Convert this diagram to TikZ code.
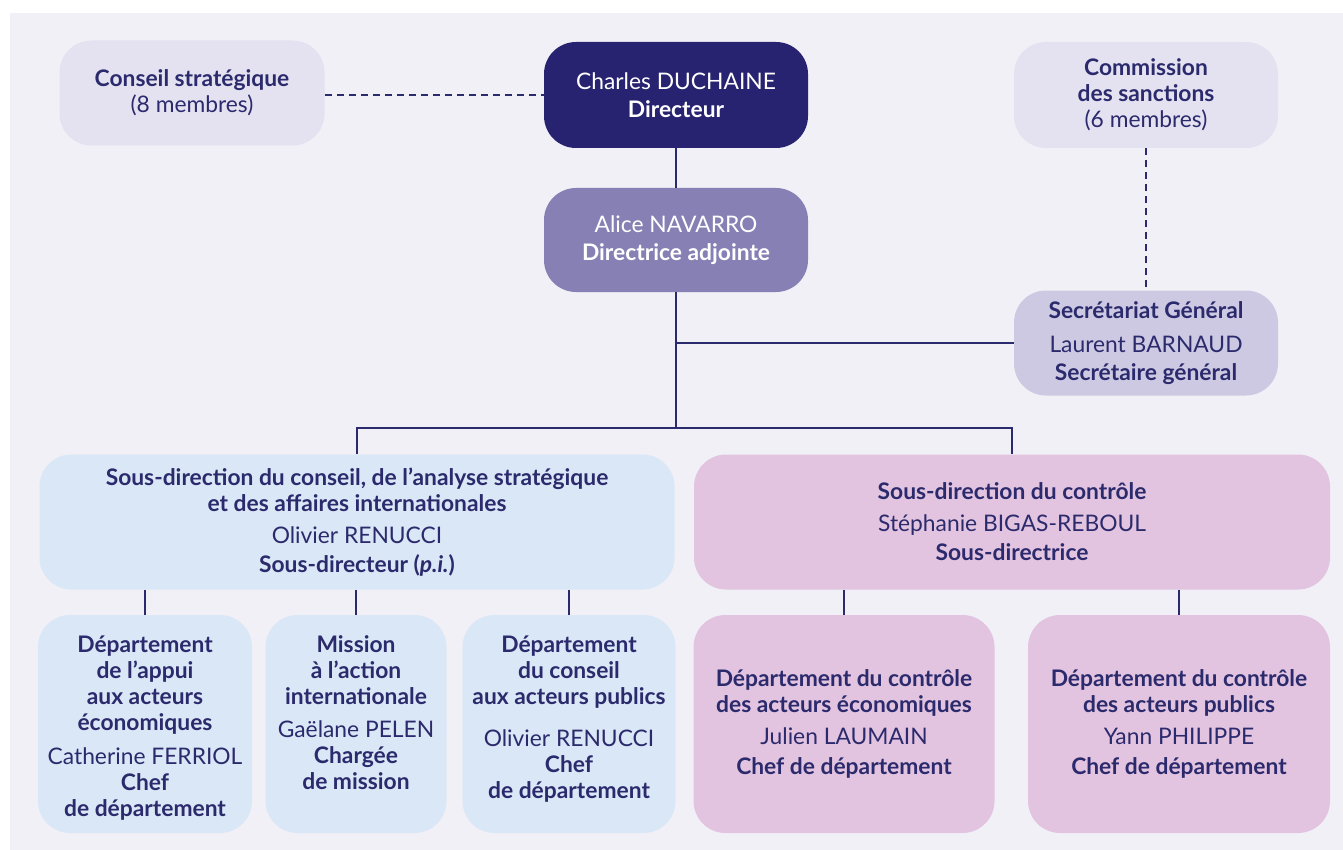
\documentclass[tikz,border=0pt]{standalone}
\usepackage{fontspec}
\setmainfont{Lato}
\usetikzlibrary{positioning}

\definecolor{navy}{HTML}{2B2A6C}
\definecolor{panel}{HTML}{F1F0F7}
\definecolor{lilac}{HTML}{E4E2F1}
\definecolor{dirblue}{HTML}{272370}
\definecolor{adjmauve}{HTML}{8780B5}
\definecolor{sgmauve}{HTML}{CDC9E3}
\definecolor{skyblue}{HTML}{DAE7F6}
\definecolor{pinkmauve}{HTML}{E2C4E0}

\tikzset{
  box/.style={rounded corners=32pt, align=center, text=navy, inner sep=0pt,
    font=\fontsize{22.8}{26}\selectfont},
  txt/.style={align=center, text=navy, inner sep=0pt,
    font=\fontsize{22.8}{26}\selectfont},
  link/.style={navy, line width=1.5pt},
  dlink/.style={link, dash pattern=on 7pt off 5pt},
}

\begin{document}
\begin{tikzpicture}[x=1pt,y=-1pt]
  \useasboundingbox (0,0) rectangle (1343,850);
  \fill[panel] (10,13) rectangle (1343,850);

  % top row
  \node[box, fill=lilac, minimum width=265pt, minimum height=105pt] (cs) at (192,93)
    {\textbf{Conseil stratégique}\\(8 membres)};
  \node[box, fill=dirblue, text=white, minimum width=264pt, minimum height=106pt] (dir) at (676,95)
    {Charles DUCHAINE\\[2pt]\textbf{Directeur}};
  \node[box, fill=lilac, minimum width=264pt, minimum height=106pt] (cds) at (1146,95)
    {\textbf{Commission}\\\textbf{des sanctions}\\(6 membres)};
  \node[box, fill=adjmauve, text=white, minimum width=264pt, minimum height=104pt] (adj) at (676,240)
    {Alice NAVARRO\\[2pt]\textbf{Directrice adjointe}};
  \node[box, fill=sgmauve, minimum width=264pt, minimum height=105pt] (sg) at (1146,343)
    {\textbf{Secrétariat Général}\\[8pt]Laurent BARNAUD\\[2pt]\textbf{Secrétaire général}};

  % sous-directions
  \node[box, fill=skyblue, minimum width=635pt, minimum height=135pt] (sdc) at (357,522)
    {\textbf{Sous-direction du conseil, de l’analyse stratégique}\\
     \textbf{et des affaires internationales}\\[6pt]
     Olivier RENUCCI\\[3pt]\textbf{Sous-directeur (\textit{p.i.})}};
  \node[box, fill=pinkmauve, minimum width=636pt, minimum height=135pt] (sdctrl) at (1012,522)
    {\textbf{Sous-direction du contrôle}\\[6pt]
     Stéphanie BIGAS-REBOUL\\[3pt]\textbf{Sous-directrice}};

  % departements
  \node[box, fill=skyblue, minimum width=214pt, minimum height=218pt] (dae) at (145,724) {};
  \node[box, fill=skyblue, minimum width=181pt, minimum height=218pt] (mai) at (356,724) {};
  \node[box, fill=skyblue, minimum width=213pt, minimum height=218pt] (dcap) at (569,724) {};
  \node[txt, anchor=north] (dae-t) at ([yshift=-21pt]dae.north)
    {\textbf{Département}\\\textbf{de l’appui}\\\textbf{aux acteurs}\\\textbf{économiques}\\[8pt]
     Catherine FERRIOL\\\textbf{Chef}\\\textbf{de département}};
  \node[txt, anchor=north] (mai-t) at ([yshift=-21pt]mai.north)
    {\textbf{Mission}\\\textbf{à l’action}\\\textbf{internationale}\\[7pt]
     Gaëlane PELEN\\\textbf{Chargée}\\\textbf{de mission}};
  \node[txt, anchor=north] (dcap-t) at ([yshift=-21pt]dcap.north)
    {\textbf{Département}\\\textbf{du conseil}\\\textbf{aux acteurs publics}\\[16pt]
     Olivier RENUCCI\\\textbf{Chef}\\\textbf{de département}};
  \node[box, fill=pinkmauve, minimum width=301pt, minimum height=218pt] (dcae) at (844,724)
    {\textbf{Département du contrôle}\\\textbf{des acteurs économiques}\\[6pt]
     Julien LAUMAIN\\[4pt]\textbf{Chef de département}};
  \node[box, fill=pinkmauve, minimum width=302pt, minimum height=218pt] (dcapu) at (1179,724)
    {\textbf{Département du contrôle}\\\textbf{des acteurs publics}\\[6pt]
     Yann PHILIPPE\\[4pt]\textbf{Chef de département}};

  % liens
  \coordinate (bus) at (676,428);
  \draw[dlink] (cs.east |- dir) -- (dir.west);
  \draw[dlink] (cds) -- (sg);
  \draw[link] (dir) -- (adj);
  \draw[link] (adj) -- (bus);
  \draw[link] (adj.south |- sg.west) -- (sg.west);
  \draw[link] (sdc.north) |- (bus) -| (sdctrl.north);
  \draw[link] (sdc.south -| dae) -- (dae.north);
  \draw[link] (sdc.south -| mai) -- (mai.north);
  \draw[link] (sdc.south -| dcap) -- (dcap.north);
  \draw[link] (sdctrl.south -| dcae) -- (dcae.north);
  \draw[link] (sdctrl.south -| dcapu) -- (dcapu.north);
\end{tikzpicture}
\end{document}
